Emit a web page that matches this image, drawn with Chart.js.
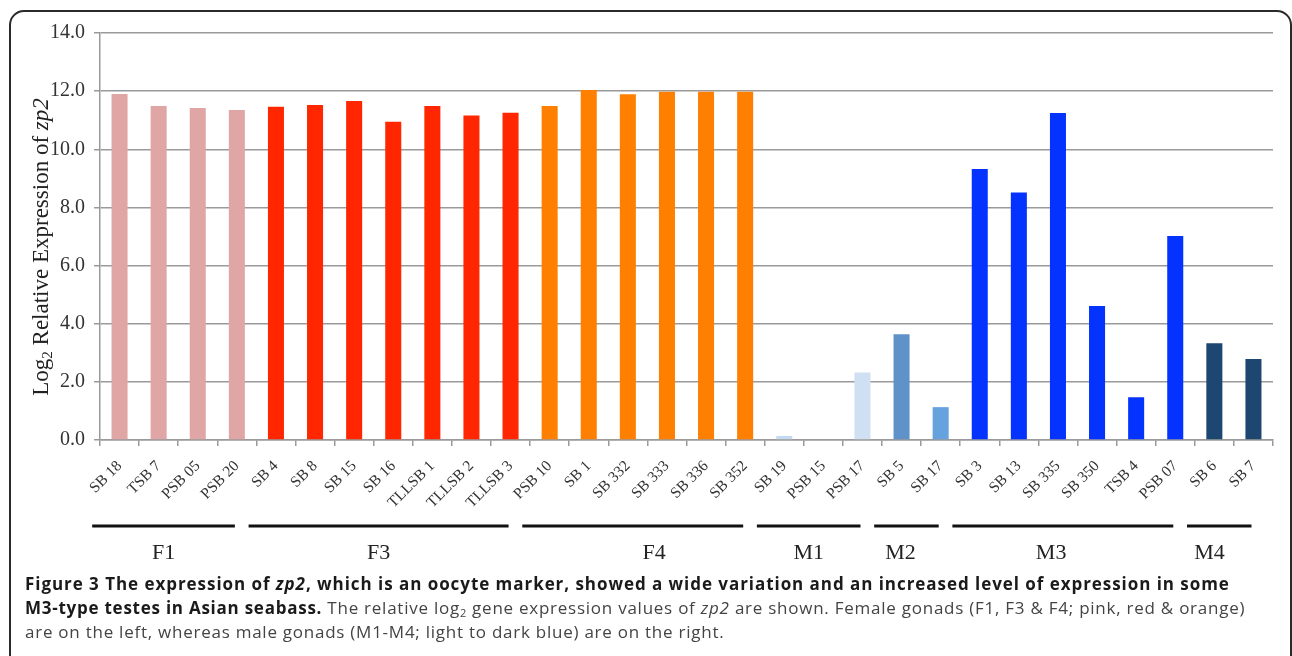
<!DOCTYPE html>
<html>
<head>
<meta charset="utf-8">
<script src="https://cdn.jsdelivr.net/npm/chart.js@4"></script>
<style>
  html, body { margin:0; padding:0; background:#fff; width:1292px; height:656px; overflow:hidden; }
  #frame { position:absolute; left:9px; top:10px; width:1279px; height:700px; border:2px solid #2a2a2a; border-radius:15px; }
  #wrap { position:absolute; left:0; top:0; width:1292px; height:575px; }
  #ytitle { position:absolute; left:-159px; top:234px; width:400px; text-align:center; transform:rotate(-90deg);
            font-family:"Liberation Serif", serif; font-size:23px; color:#222; line-height:26px; white-space:nowrap; }
  #ytitle sub { font-size:15px; vertical-align:-4px; line-height:0; }
  #caption { position:absolute; left:25px; top:572px; width:1265px; font-family:"Open Sans", sans-serif; font-size:17px;
             line-height:24px; color:#444; white-space:nowrap; letter-spacing:0.75px; }
  #caption #l1 { letter-spacing:0.95px; }
  #caption b { color:#1a1a1a; }
  #caption sub { font-size:11px; vertical-align:-3px; line-height:0; }
</style>
</head>
<body>
<div id="frame"></div>
<div id="wrap"><canvas id="c"></canvas></div>
<div id="ytitle">Log<sub>2</sub> Relative Expression of <i>zp2</i></div>
<div id="caption">
  <div id="l1"><b>Figure 3 The expression of <i>zp2</i>, which is an oocyte marker, showed a wide variation and an increased level of expression in some</b></div>
  <div id="l2"><b>M3-type testes in Asian seabass.</b> The relative log<sub>2</sub> gene expression values of <i>zp2</i> are shown. Female gonads (F1, F3 &amp; F4; pink, red &amp; orange)</div>
  <div id="l3">are on the left, whereas male gonads (M1-M4; light to dark blue) are on the right.</div>
</div>
<script>
const categories = ["SB 18","TSB 7","PSB 05","PSB 20","SB 4","SB 8","SB 15","SB 16","TLLSB 1","TLLSB 2","TLLSB 3",
  "PSB 10","SB 1","SB 332","SB 333","SB 336","SB 352","SB 19","PSB 15","PSB 17","SB 5","SB 17",
  "SB 3","SB 13","SB 335","SB 350","TSB 4","PSB 07","SB 6","SB 7"];
const expression = [11.90,11.49,11.42,11.35, 11.46,11.52,11.66,10.95,11.49,11.16,11.26,
  11.49,12.04,11.89,11.98,11.98,11.98, 0.14,0,2.32, 3.64,1.13,
  9.32,8.51,11.25,4.61,1.47,7.02, 3.33,2.79];
const groupNames = ["F1","F3","F4","M1","M2","M3","M4"];
const groupSizes = [4,7,6,3,2,6,2];
const yTicks = [0,2,4,6,8,10,12,14];

// styles
const barColors = ["#e0a6a6","#e0a6a6","#e0a6a6","#e0a6a6",
  "#ff2600","#ff2600","#ff2600","#ff2600","#ff2600","#ff2600","#ff2600",
  "#ff7f00","#ff7f00","#ff7f00","#ff7f00","#ff7f00","#ff7f00",
  "#c6daef","#c6daef","#cfe0f2","#5e92c8","#66a2dd",
  "#0432ff","#0432ff","#0432ff","#0432ff","#0432ff","#0432ff",
  "#1d4670","#1d4670"];
const groupLabelShift = [0,0,0.55,0,-0.15,-0.3,-0.25];

const groupPlugin = {
  id: 'groups',
  afterDraw(chart) {
    const xs = chart.scales.x;
    const ctx = chart.ctx;
    const w = xs.getPixelForValue(1) - xs.getPixelForValue(0);
    let start = 0;
    ctx.save();
    groupNames.forEach((g, i) => {
      const end = start + groupSizes[i];
      const x1 = xs.getPixelForValue(start) - 0.5 * w - 0.2 * w;
      const x2 = xs.getPixelForValue(end - 1) + 0.5 * w - 0.55 * w;
      ctx.strokeStyle = '#111';
      ctx.lineWidth = 3.2;
      ctx.beginPath();
      ctx.moveTo(x1, 526);
      ctx.lineTo(x2, 526);
      ctx.stroke();
      ctx.fillStyle = '#222';
      ctx.font = '22px "Liberation Serif", serif';
      ctx.textAlign = 'center';
      ctx.textBaseline = 'middle';
      ctx.fillText(g, (x1 + x2) / 2 + groupLabelShift[i] * w, 553);
      start = end;
    });
    ctx.restore();
  }
};

new Chart(document.getElementById('c'), {
  type: 'bar',
  data: {
    labels: categories,
    datasets: [{ data: expression, backgroundColor: barColors, barPercentage: 0.41, categoryPercentage: 1.0 }]
  },
  options: {
    responsive: true, maintainAspectRatio: false, animation: false,
    layout: { padding: { top: 33, right: 19, left: 0, bottom: 0 } },
    plugins: { legend: { display: false }, tooltip: { enabled: false } },
    scales: {
      y: {
        min: 0, max: 14,
        afterFit(s) { s.width = 100; },
        afterBuildTicks(s) { s.ticks = yTicks.map(v => ({ value: v })); },
        ticks: { callback: v => Number(v).toFixed(1), font: { family: '"Liberation Serif", serif', size: 20 }, color: '#333', padding: 9 },
        grid: { color: '#9a9a9a', lineWidth: 1.5, tickLength: 6, drawTicks: true },
        border: { color: '#9a9a9a', width: 1.5 }
      },
      x: {
        afterFit(s) { s.height = 135; },
        ticks: { autoSkip: false, maxRotation: 45, minRotation: 45, font: { family: '"Liberation Serif", serif', size: 15.5 }, color: '#333', padding: 11 },
        grid: { drawOnChartArea: false, drawTicks: true, tickLength: 6, color: '#9a9a9a', lineWidth: 1.5, offset: true },
        border: { color: '#9a9a9a', width: 1.5 }
      }
    }
  },
  plugins: [groupPlugin]
});
</script>
</body>
</html>
